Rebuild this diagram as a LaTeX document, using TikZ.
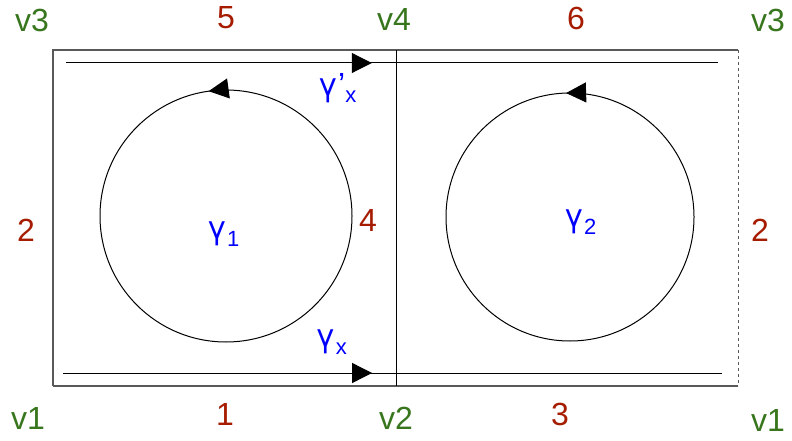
\documentclass[tikz,border=0pt]{standalone}
\usepackage{fontspec}
\setmainfont{Liberation Sans}
\newfontfamily\greekfont{TeX Gyre Heros}
\usetikzlibrary{arrows.meta, decorations.markings}

\definecolor{vertgreen}{HTML}{38761D}
\definecolor{edgered}{HTML}{A61C00}
\definecolor{loopblue}{HTML}{0000FF}

% subscript for the loop names
\newcommand{\loopsub}[1]{\raisebox{-0.45ex}{\fontsize{22}{22}\selectfont #1}}
\newcommand{\gam}{{\greekfont γ}}

\begin{document}
\begin{tikzpicture}[
            x=1pt, y=-1pt,
            font=\fontsize{32}{36}\selectfont,
            vlabel/.style={text=vertgreen, inner sep=0pt},
            elabel/.style={text=edgered, inner sep=0pt},
            glabel/.style={text=loopblue, inner sep=0pt},
            frame/.style={draw=black!65, line width=1.3pt},
            seam/.style={draw=black, line width=1pt},
            midtip/.style={decoration={markings, mark=at position #1 with {\arrow{Triangle[length=20pt, width=20pt]}}}, postaction=decorate},
            track/.style={draw=black, line width=1pt}
            ]
            \useasboundingbox (0,0) rectangle (792,441);

            % corners of the square
            \coordinate (p1) at (53,386);
            \coordinate (p2) at (396,386);
            \coordinate (p3) at (53,50);
            \coordinate (p4) at (396,50);
            \coordinate (q3) at (738,50);
            \coordinate (q1) at (738,386);

            % outer edges
            \draw[frame] (p1) -- (p3) -- (q3);
            \draw[frame] (p1) -- (q1);
            \draw[frame, dashed, line width=1pt] (q3) -- (q1);
            \draw[seam] (p4) -- (p2);

            % paths along the top and bottom
            \coordinate (tA) at (66,63);
            \coordinate (tB) at (718,63);
            \coordinate (bA) at (63,373);
            \coordinate (bB) at (722,373);
            \draw[track, midtip=0.469] (tA) -- (tB);
            \draw[track, midtip=0.469] (bA) -- (bB);

            % loops
            \coordinate (c1) at (226,216);
            \coordinate (c2) at (570,217);
            \draw[track, midtip=0.272] (c1) ++(126pt,0pt) arc[start angle=0, end angle=360, radius=126pt];
            \draw[track, midtip=0.255] (c2) ++(124pt,0pt) arc[start angle=0, end angle=360, radius=124pt];

            % vertex names
            \node[vlabel] (v3l) at (32,20) {v3};
            \node[vlabel] (v4) at (394,19) {v4};
            \node[vlabel] (v3r) at (768,20) {v3};
            \node[vlabel] (v1l) at (28,418) {v1};
            \node[vlabel] (v2) at (396,418) {v2};
            \node[vlabel] (v1r) at (768,420) {v1};

            % edge numbers
            \node[elabel] (e5) at (226,18) {5};
            \node[elabel] (e6) at (576,18) {6};
            \node[elabel] (e2l) at (26,230) {2};
            \node[elabel] (e4) at (368,220) {4};
            \node[elabel] (e2r) at (760,230) {2};
            \node[elabel] (e1) at (225,414) {1};
            \node[elabel] (e3) at (560,414) {3};

            % loop names
            \node[glabel] (gxp) at (337,88) {\gam’\loopsub{x}};
            \node[glabel] (gx) at (331,342) {\gam\loopsub{x}};
            \node[glabel] (g1) at (223,234) {\gam\loopsub{1}};
            \node[glabel] (g2) at (580,222) {\gam\loopsub{2}};

        \end{tikzpicture}
\end{document}
